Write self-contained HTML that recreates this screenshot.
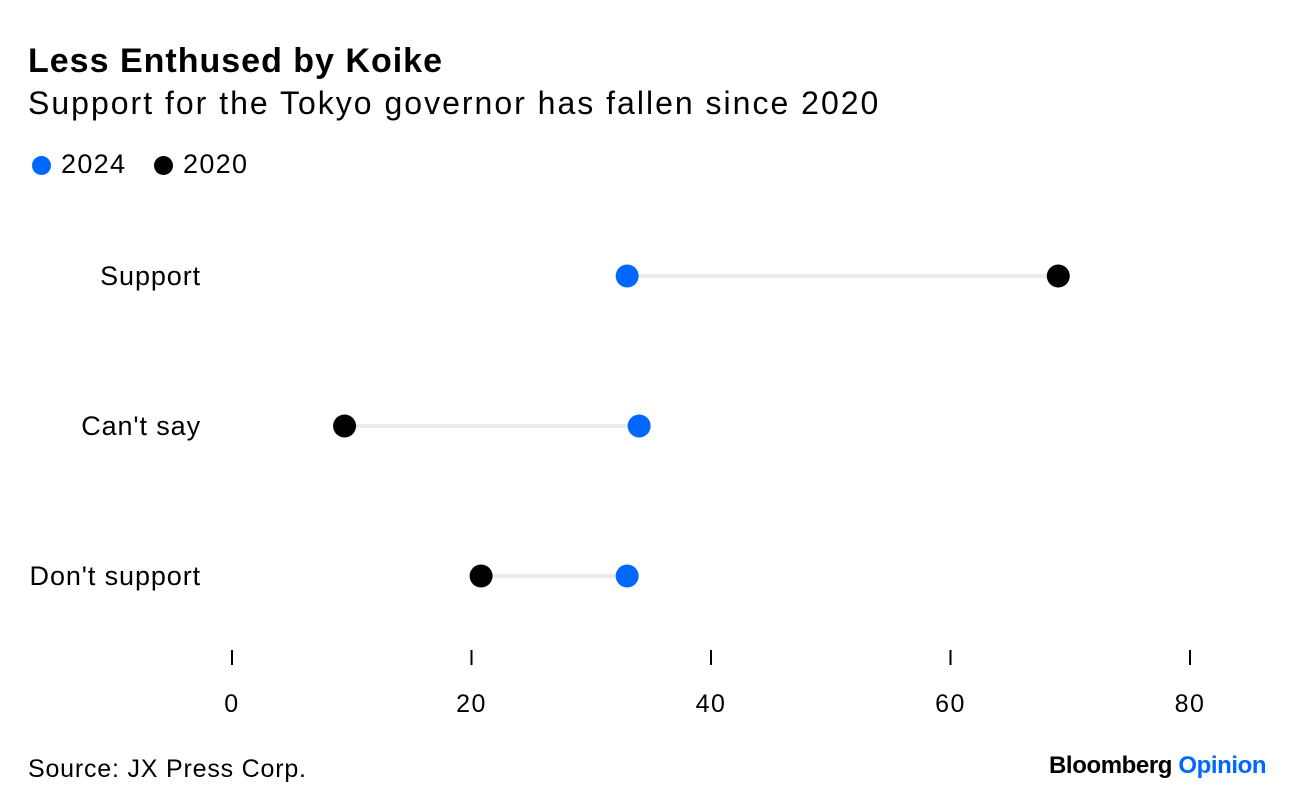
<!DOCTYPE html>
<html><head><meta charset="utf-8"><style>
body{margin:0;background:#fff;font-family:"Liberation Sans",sans-serif;color:#000}
#wrap{position:relative;width:1296px;height:810px;overflow:hidden}
.t{position:absolute;white-space:nowrap}
</style></head><body>
<div id="wrap">
<div class="t" style="left:28px;top:42px;font-size:34px;font-weight:bold;letter-spacing:1px">Less Enthused by Koike</div>
<div class="t" style="left:28px;top:85px;font-size:32px;letter-spacing:2px">Support for the Tokyo governor has fallen since 2020</div>
<div class="t" style="left:32px;top:149px;font-size:27px;letter-spacing:1.3px"><span style="display:inline-block;width:19px;height:19px;border-radius:50%;background:#0068ff;vertical-align:-2px;margin-right:10px"></span>2024</div>
<div class="t" style="left:154px;top:149px;font-size:27px;letter-spacing:1.3px"><span style="display:inline-block;width:19px;height:19px;border-radius:50%;background:#000;vertical-align:-2px;margin-right:10px"></span>2020</div>
<svg id="svg" width="1296" height="810" style="position:absolute;left:0;top:0"></svg>
<div class="t" style="left:28px;top:755px;font-size:25px;letter-spacing:0.8px">Source: JX Press Corp.</div>
<div class="t" style="left:1049px;top:752px;font-size:24px;font-weight:bold;letter-spacing:-0.4px">Bloomberg <span style="color:#0068ff">Opinion</span></div>
</div>
<script>
const categories=["Support","Can't say","Don't support"];
const values2024=[33,34,33];
const values2020=[69,9.4,20.8];
const ticks=[0,20,40,60,80];
const NS="http://www.w3.org/2000/svg";
const svg=document.getElementById('svg');
const x=v=>232+v*(1190-232)/80;
const y=i=>276+i*150;
function mk(tag,attrs){const e=document.createElementNS(NS,tag);for(const k in attrs)e.setAttribute(k,attrs[k]);svg.appendChild(e);return e;}
ticks.forEach(t=>{
 const l=mk('line',{x1:x(t),x2:x(t),y1:650,y2:665,stroke:'#000','stroke-width':2});
 
 
 const tx=mk('text',{x:x(t),y:712,'text-anchor':'middle','font-size':25,'letter-spacing':1.5,'font-family':'Liberation Sans, sans-serif'});
 tx.textContent=t;
 
 
});
categories.forEach((c,i)=>{
 const lb=mk('text',{x:201,y:y(i)+9,'text-anchor':'end','font-size':27,'letter-spacing':0.9,'font-family':'Liberation Sans, sans-serif'});
 lb.textContent=c;
 
 
 const ln=mk('line',{x1:x(values2024[i]),x2:x(values2020[i]),y1:y(i),y2:y(i),stroke:'#ebebeb','stroke-width':4});
 
 
 const d0=mk('circle',{cx:x(values2020[i]),cy:y(i),r:11.5,fill:'#000'});
 
 
 const d1=mk('circle',{cx:x(values2024[i]),cy:y(i),r:11.5,fill:'#0068ff'});
 
 
});
</script>
</body></html>
